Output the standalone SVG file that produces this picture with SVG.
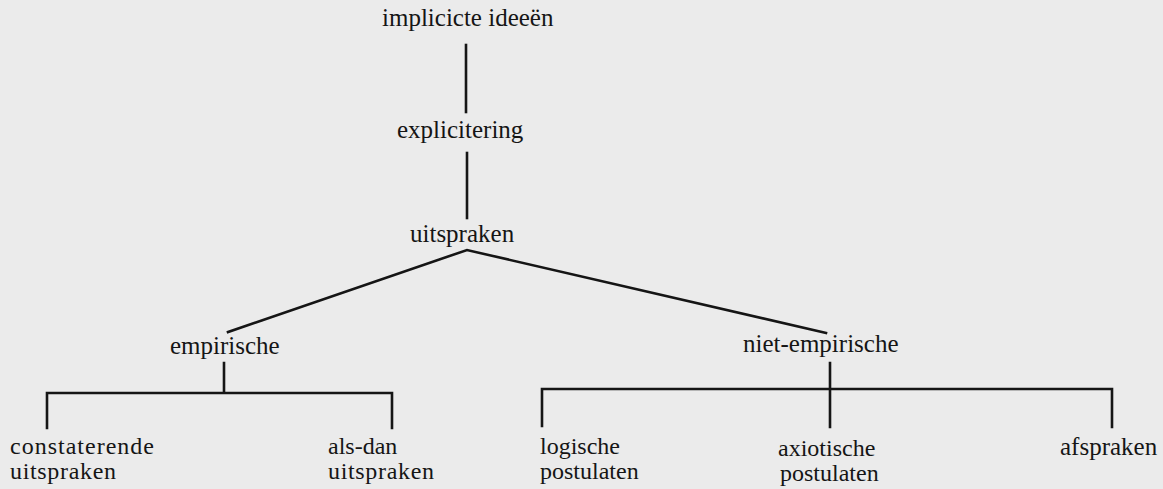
<svg xmlns="http://www.w3.org/2000/svg" width="1163" height="489" viewBox="0 0 1163 489">
<style>
.t{font-family:"Liberation Serif","Times New Roman",serif;font-size:25px;fill:#151515}
.s{font-size:24px}
.c{stroke:#151515;stroke-width:2.6;fill:none;stroke-linecap:square}
</style>
<rect width="1163" height="489" fill="#ebebeb"/>
<g id="connectors">
<path class="c" d="M466 45V112"/>
<path class="c" d="M467 153V218"/>
<path class="c" d="M228 332L467 250L826 333"/>
<path class="c" d="M224 363V393M47 428V393H392V428"/>
<path class="c" d="M830 363V427M542 426V389H1112V427"/>
</g>
<g id="n-implicicte"><text class="t" x="382" y="26">implicicte ideeën</text></g>
<g id="n-explicitering"><text class="t" x="397" y="138">explicitering</text></g>
<g id="n-uitspraken"><text class="t" x="410" y="242">uitspraken</text></g>
<g id="n-empirische"><text class="t" x="170" y="354">empirische</text></g>
<g id="n-niet-empirische"><text class="t" x="743" y="352">niet-empirische</text></g>
<g id="n-constaterende"><text class="t s" x="10" y="454" textLength="144">constaterende</text><text class="t s" x="10" y="479" textLength="106">uitspraken</text></g>
<g id="n-als-dan"><text class="t s" x="328" y="454">als-dan</text><text class="t s" x="328" y="479" textLength="106">uitspraken</text></g>
<g id="n-logische"><text class="t s" x="540" y="454">logische</text><text class="t s" x="540" y="479">postulaten</text></g>
<g id="n-axiotische"><text class="t s" x="778" y="456">axiotische</text><text class="t s" x="780" y="481">postulaten</text></g>
<g id="n-afspraken"><text class="t" x="1060" y="455">afspraken</text></g>
</svg>
